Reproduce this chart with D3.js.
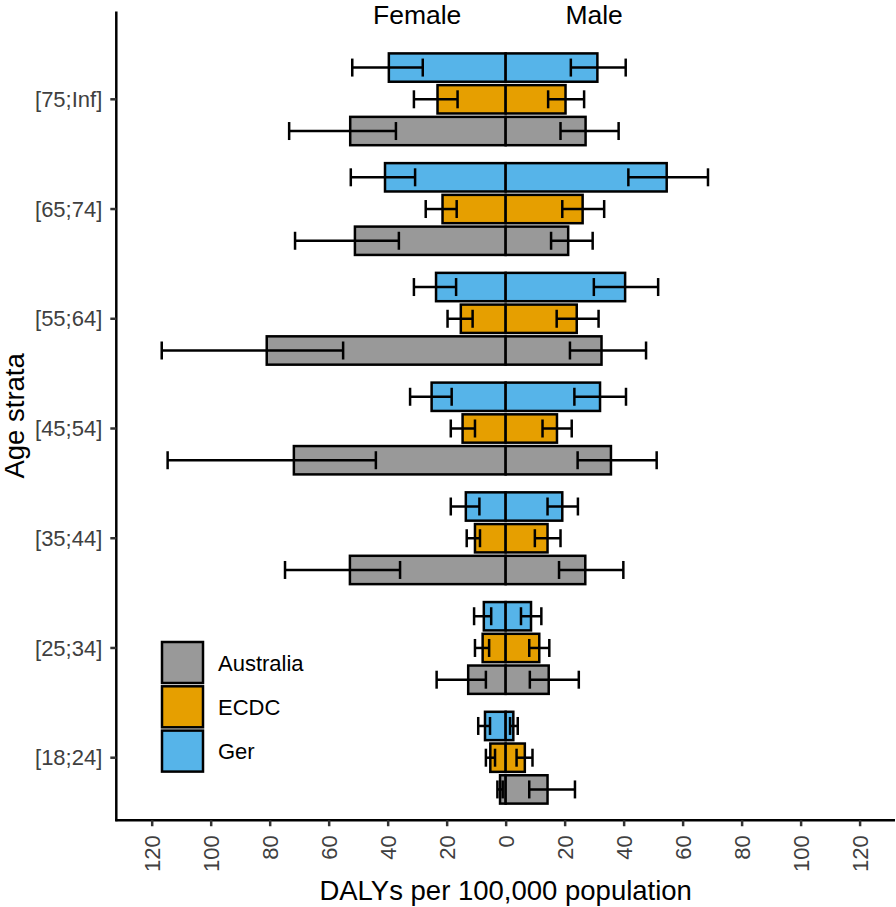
<!DOCTYPE html>
<html>
<head>
<meta charset="utf-8">
<script src="https://cdn.jsdelivr.net/npm/d3@7"></script>
<style>
  body { margin: 0; background: #fff; }
  svg { font-family: "Liberation Sans", Arial, sans-serif; }
</style>
</head>
<body>
<svg width="896" height="907"></svg>
<script>
// age strata, top to bottom
const ageStrata = ["[75;Inf]", "[65;74]", "[55;64]", "[45;54]", "[35;44]", "[25;34]", "[18;24]"];
// sources, top to bottom inside each stratum
const sources = ["Ger", "ECDC", "Australia"];
const legendOrder = ["Australia", "ECDC", "Ger"];
const sourceColors = ["#56B4E9", "#E69F00", "#999999"];

// [estimate, lower, upper] per stratum (DALYs per 100,000)
const gerFemale = [[39.6, 28.1, 52.0], [40.9, 30.7, 52.5], [23.6, 16.8, 31.1], [25.1, 18.3, 32.4], [13.5, 8.9, 18.6], [7.4, 4.9, 10.7], [7.0, 5.3, 9.3]];
const gerMale = [[31.1, 22.1, 40.7], [54.6, 41.6, 68.6], [40.5, 29.9, 51.7], [32.0, 23.3, 40.8], [19.2, 14.2, 24.5], [8.6, 5.2, 12.1], [2.6, 1.5, 4.1]];
const ecdcFemale = [[23.1, 16.3, 31.1], [21.4, 16.6, 27.1], [15.2, 11.2, 19.7], [14.6, 10.4, 18.6], [10.4, 8.7, 13.2], [7.8, 5.6, 10.4], [5.2, 3.6, 6.7]];
const ecdcMale = [[20.3, 14.4, 26.6], [26.1, 19.2, 33.4], [24.1, 17.3, 31.5], [17.4, 12.5, 22.4], [14.2, 9.9, 18.6], [11.4, 8.0, 14.8], [6.5, 3.7, 9.1]];
const ausFemale = [[52.7, 37.2, 73.4], [51.1, 36.2, 71.4], [81.0, 55.1, 116.6], [71.8, 44.0, 114.6], [52.8, 35.8, 74.8], [12.7, 6.7, 23.4], [1.9, 1.0, 2.8]];
const ausMale = [[27.1, 18.6, 38.3], [21.2, 15.4, 29.5], [32.5, 21.8, 47.6], [35.7, 24.4, 51.2], [27.0, 18.1, 39.9], [14.6, 8.2, 24.8], [14.2, 8.0, 23.5]];

const xTicks = [-120, -100, -80, -60, -40, -20, 0, 20, 40, 60, 80, 100, 120];

// build rows: female values go to the left (negative)
var rows = [];
function addRows(src, sex, arr) {
    arr.forEach(function(v, i) {
        var s = sex == "Female" ? -1 : 1;
        rows.push({source: src, sex: sex, age: ageStrata[i], est: s * v[0], lo: s * v[1], hi: s * v[2]});
    });
}
addRows("Ger", "Female", gerFemale);
addRows("Ger", "Male", gerMale);
addRows("ECDC", "Female", ecdcFemale);
addRows("ECDC", "Male", ecdcMale);
addRows("Australia", "Female", ausFemale);
addRows("Australia", "Male", ausMale);

const svg = d3.select("svg");

const x = d3.scaleLinear().domain([-132, 132]).range([116.3, 895]);
const yIdx = d3.scaleLinear().domain([0, 6]).range([99.3, 757.7]);
const yCat = d => yIdx(ageStrata.indexOf(d));
const ySub = d3.scaleBand().domain(sources).range([-45.9, 45.9]).paddingInner(0.107);
const color = d3.scaleOrdinal().domain(sources).range(sourceColors);

const panelTop = yIdx(-0.8), panelBottom = yIdx(6.57);
const lw = 2.5;

// bars
svg.append("g")
  .selectAll("rect")
  .data(rows)
  .join("rect")
    .attr("x", d => Math.min(x(0), x(d.est)))
    .attr("width", d => Math.abs(x(d.est) - x(0)))
    .attr("y", d => yCat(d.age) + ySub(d.source))
    .attr("height", ySub.bandwidth())
    .attr("fill", d => color(d.source))
    .attr("stroke", "#000")
    .attr("stroke-width", lw);

// error bars
const capH = 9;
const err = svg.append("g")
    .attr("stroke", "#000")
    .attr("stroke-width", lw)
  .selectAll("g")
  .data(rows)
  .join("g")
    .attr("transform", d => `translate(0,${yCat(d.age) + ySub(d.source) + ySub.bandwidth() / 2})`);
err.append("line")
    .attr("x1", d => x(d.lo)).attr("x2", d => x(d.hi));
err.append("line")
    .attr("x1", d => x(d.lo)).attr("x2", d => x(d.lo))
    .attr("y1", -capH).attr("y2", capH);
err.append("line")
    .attr("x1", d => x(d.hi)).attr("x2", d => x(d.hi))
    .attr("y1", -capH).attr("y2", capH);

// x axis
const xAxis = svg.append("g")
    .attr("transform", `translate(0,${panelBottom})`)
    .call(d3.axisBottom(x).tickValues(xTicks).tickFormat(d => Math.abs(d)).tickSize(6).tickSizeOuter(0));
xAxis.select(".domain").attr("stroke", "#000").attr("stroke-width", lw)
    .attr("d", `M${x.range()[0] - 1},0H${x.range()[1]}`);
xAxis.selectAll(".tick line").attr("stroke", "#333").attr("stroke-width", lw);
xAxis.selectAll(".tick text")
    .attr("font-size", 22)
    .attr("fill", "#404040")
    .attr("font-family", null)
    .attr("text-anchor", "end")
    .attr("y", 0).attr("dy", "0.35em")
    .attr("transform", "translate(0,15) rotate(-90)");

// y axis
const yAxis = svg.append("g").attr("transform", `translate(${x.range()[0]},0)`);
yAxis.append("line")
    .attr("y1", panelTop).attr("y2", panelBottom + 1)
    .attr("stroke", "#000").attr("stroke-width", lw);
yAxis.selectAll(".ytick")
  .data(ageStrata)
  .join("line")
    .attr("x1", -6).attr("x2", 0)
    .attr("y1", d => yCat(d)).attr("y2", d => yCat(d))
    .attr("stroke", "#333").attr("stroke-width", lw);
yAxis.selectAll(".ylab")
  .data(ageStrata)
  .join("text")
    .attr("x", -14)
    .attr("y", d => yCat(d))
    .attr("dy", "0.35em")
    .attr("text-anchor", "end")
    .attr("font-size", 22)
    .attr("fill", "#404040")
    .text(d => d);

// axis titles
svg.append("text")
    .attr("x", x(0)).attr("y", 900)
    .attr("text-anchor", "middle")
    .attr("font-size", 27.5)
    .text("DALYs per 100,000 population");
svg.append("text")
    .attr("transform", `translate(24,${(panelTop + panelBottom) / 2}) rotate(-90)`)
    .attr("text-anchor", "middle")
    .attr("font-size", 27.5)
    .text("Age strata");

// Female / Male labels
svg.selectAll(".sexlab")
  .data([["Female", -30], ["Male", 30]])
  .join("text")
    .attr("x", d => x(d[1]))
    .attr("y", 24)
    .attr("text-anchor", "middle")
    .attr("font-size", 26.5)
    .text(d => d[0]);

// legend
const leg = svg.append("g").attr("transform", "translate(162,642)");
const key = leg.selectAll("g")
  .data(legendOrder)
  .join("g")
    .attr("transform", (d, i) => `translate(0,${i * 44.3})`);
key.append("rect")
    .attr("width", 41).attr("height", 41)
    .attr("fill", d => color(d))
    .attr("stroke", "#000").attr("stroke-width", lw);
key.append("text")
    .attr("x", 56).attr("y", 21)
    .attr("dy", "0.35em")
    .attr("font-size", 22)
    .text(d => d);
</script>
</body>
</html>
